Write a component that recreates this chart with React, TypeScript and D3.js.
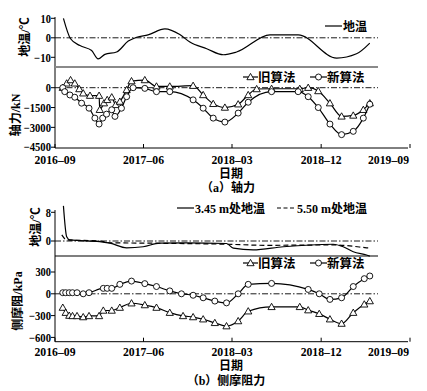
import React from "react";
import * as d3 from "d3";

// ---------- DATA ----------
const xTickLabels = ["2016-09", "2017-06", "2018-03", "2018-12", "2019-09"];

// (a) ground temperature
const tempADates = ["2016-09-27","2016-10-19","2016-11-17","2016-12-23","2017-01-12","2017-02-02","2017-03-10","2017-04-15","2017-05-11","2017-06-15","2017-08-06","2017-09-21","2017-10-22","2017-12-13","2018-02-02","2018-03-15","2018-06-26","2018-09-21","2019-01-18","2019-03-20","2019-04-30"];
const tempAValues = [10, -0.5, -4, -6.5, -10.8, -8.5, -7.3, -1.7, 0.3, 1.5, 4.6, 1.7, -2.2, -5.6, -8.7, -7.3, 1.5, 1.5, -10.4, -8.2, -2.7];
const tempATicks = [10, 0, -10];

// (a) axial force, old method
const axialOldDates = ["2016-09-25","2016-10-07","2016-10-19","2016-11-01","2016-11-15","2016-11-27","2016-12-18","2017-01-15","2017-01-17","2017-01-30","2017-02-09","2017-02-23","2017-03-07","2017-03-20","2017-04-10","2017-04-25","2017-06-05","2017-07-11","2017-08-21","2017-11-01","2017-12-02","2018-01-02","2018-02-07","2018-03-20","2018-04-20","2018-05-16","2018-07-01","2018-09-26","2018-10-22","2018-11-22","2018-12-28","2019-02-02","2019-03-10","2019-04-10","2019-04-30"];
const axialOldValues = [0, 330, 580, 330, -100, -420, -600, -600, -1670, -1170, -920, -720, -1300, -1050, -170, 500, 580, 100, 100, 150, -550, -1220, -1500, -1250, -550, -100, -80, -80, 0, -250, -1170, -2170, -2100, -1670, -1170];
// (a) axial force, new method
const axialNewDates = ["2016-09-25","2016-10-01","2016-10-17","2016-11-01","2016-11-22","2016-12-15","2017-01-02","2017-01-15","2017-01-26","2017-02-07","2017-02-23","2017-03-05","2017-03-25","2017-04-10","2017-04-30","2017-06-05","2017-07-11","2017-08-21","2017-11-01","2017-12-02","2018-01-02","2018-02-07","2018-03-20","2018-04-20","2018-07-01","2018-09-21","2018-10-22","2018-11-22","2018-12-28","2019-02-02","2019-03-10","2019-04-10","2019-04-30"];
const axialNewValues = [0, -300, -550, -720, -1170, -1550, -2300, -2750, -2300, -2000, -1670, -2170, -1550, -680, 0, -50, -300, -300, -920, -1550, -2300, -2600, -1920, -1100, -300, -300, -680, -1500, -2750, -3550, -3300, -2300, -1250];
const axialTicks = [0, -1500, -3000, -4500];

// (b) ground temperatures
const temp345Dates = ["2016-09-27","2016-10-07","2016-10-17","2017-01-17","2017-02-18","2017-04-10","2017-05-31","2017-07-21","2017-10-11","2018-02-12","2018-03-05","2018-05-05","2018-08-06","2019-01-07","2019-02-07","2019-03-10","2019-04-20","2019-04-30"];
const temp345Values = [9.8, 1.2, 0.3, -0.2, -0.6, -1.9, -1.6, -0.6, -0.5, -0.7, -2, -2.5, -1.6, -0.9, -1.6, -3, -3.9, -4.2];
const temp550Dates = ["2016-09-22","2016-10-07","2017-01-17","2017-02-18","2017-06-21","2018-02-12","2018-06-15","2019-01-07","2019-04-20","2019-04-30"];
const temp550Values = [1.7, 0.3, 0, -0.5, -0.6, -0.9, -1.2, -1.1, -1.9, -2.0];
const tempBTicks = [8, 0];

// (b) side friction
const fricNewDates = ["2016-09-25","2016-10-04","2016-10-15","2016-10-25","2016-11-08","2016-11-27","2016-12-15","2017-01-28","2017-02-09","2017-02-23","2017-03-20","2017-04-25","2017-06-05","2017-07-11","2017-08-21","2017-09-26","2017-11-01","2017-12-02","2018-01-07","2018-02-12","2018-03-20","2018-04-20","2018-07-01","2018-10-22","2018-11-25","2018-12-28","2019-02-02","2019-03-10","2019-04-13","2019-04-30"];
const fricNewValues = [15, 15, 15, 15, 15, 0, 15, 75, 75, 75, 130, 175, 140, 100, 40, 0, -20, -55, -100, -125, 0, 130, 143, 60, 0, -77, -55, 100, 208, 245];
const fricOldDates = ["2016-09-25","2016-10-04","2016-10-15","2016-10-25","2016-11-08","2016-11-27","2016-12-15","2017-01-15","2017-01-28","2017-02-23","2017-03-20","2017-04-25","2017-06-05","2017-07-11","2017-08-21","2017-10-01","2017-11-01","2017-12-02","2018-01-07","2018-02-12","2018-03-20","2018-04-20","2018-07-01","2018-09-26","2018-10-22","2018-11-25","2018-12-28","2019-02-02","2019-03-10","2019-04-13","2019-04-30"];
const fricOldValues = [-190, -260, -300, -305, -305, -320, -305, -305, -230, -230, -190, -130, -155, -190, -260, -305, -320, -350, -400, -445, -375, -240, -180, -180, -225, -275, -350, -410, -260, -145, -100];
const fricTicks = [300, 0, -300, -600];

// ---------- HELPERS ----------
const parse = d3.timeParse("%Y-%m-%d");
const zip = (ds: string[], vs: number[]) => ds.map((d, i) => ({ t: parse(d) as Date, v: vs[i] }));

const NUM_FONT = "'Liberation Serif', 'Times New Roman', serif";
const CJK_FONT = "'Liberation Serif', 'Noto Sans CJK SC', serif";

const x = d3.scaleTime()
  .domain([parse("2016-09-01") as Date, parse("2019-09-01") as Date])
  .range([55, 410]);
const xTickDates = xTickLabels.map(s => parse(s + "-01") as Date);
const X0 = 55, XEND = 378, XAXEND = 408;

function Tri({ cx, cy }: { cx: number; cy: number }) {
  const s = 3.6;
  return <path d={`M${cx},${cy - s}L${cx + s},${cy + s * 0.75}L${cx - s},${cy + s * 0.75}Z`} fill="#fff" stroke="#000" strokeWidth={0.9} />;
}
function Circ({ cx, cy }: { cx: number; cy: number }) {
  return <circle cx={cx} cy={cy} r={3} fill="#fff" stroke="#000" strokeWidth={0.9} />;
}

function Series({ data, y, marker, dash }: { data: { t: Date; v: number }[]; y: d3.ScaleLinear<number, number>; marker?: "tri" | "circ"; dash?: string }) {
  const line = d3.line<{ t: Date; v: number }>().x(d => x(d.t)).y(d => y(d.v)).curve(d3.curveMonotoneX);
  return (
    <g>
      <path d={line(data) || ""} fill="none" stroke="#000" strokeWidth={1.2} strokeDasharray={dash} />
      {marker && data.map((d, i) =>
        marker === "tri" ? <Tri key={i} cx={x(d.t)} cy={y(d.v)} /> : <Circ key={i} cx={x(d.t)} cy={y(d.v)} />
      )}
    </g>
  );
}

function YTicks({ y, ticks }: { y: d3.ScaleLinear<number, number> ; ticks: number[] }) {
  return (
    <g>
      {ticks.map(t => {
        const s = t < 0 ? "\u2212" + Math.abs(t) : String(t);
        const w = String(Math.abs(t)).length * 5.2 + (t < 0 ? 6.5 : 0);
        return (
          <g key={t}>
            <line x1={X0 - 4} x2={X0} y1={y(t)} y2={y(t)} stroke="#000" strokeWidth={1} />
            <text x={X0 - 4} y={y(t)} dy="0.35em" textAnchor="end" fontFamily={NUM_FONT} fontWeight="bold" fontSize={12}
              textLength={w} lengthAdjust="spacingAndGlyphs">
              {s}
            </text>
          </g>
        );
      })}
    </g>
  );
}

function XAxis({ yPos, off }: { yPos: number; off: number }) {
  return (
    <g>
      <line x1={X0} x2={XAXEND} y1={yPos} y2={yPos} stroke="#000" strokeWidth={1} />
      {xTickDates.map((d, i) => {
        const last = i === xTickDates.length - 1;
        return (
          <g key={i}>
            <line x1={x(d)} x2={x(d)} y1={yPos} y2={yPos - 4} stroke="#000" strokeWidth={1} />
            <text x={last ? 409 : x(d)} y={yPos + off} textAnchor={last ? "end" : "middle"} fontFamily={NUM_FONT} fontWeight="bold" fontSize={12.5}
              textLength={41} lengthAdjust="spacingAndGlyphs">
              {xTickLabels[i].replace("-", "\u2013")}
            </text>
          </g>
        );
      })}
    </g>
  );
}

function ZeroLine({ yPos }: { yPos: number }) {
  return <line x1={X0} x2={XEND} y1={yPos} y2={yPos} stroke="#000" strokeWidth={0.9} strokeDasharray="6,2,1.5,2" />;
}

function YLabel({ cx, cy, text }: { cx: number; cy: number; text: string }) {
  return (
    <text transform={`translate(${cx},${cy}) rotate(-90)`} textAnchor="middle" dy="0.35em" fontFamily={CJK_FONT} fontWeight="bold" fontSize={12}>
      {text}
    </text>
  );
}

export default function App() {
  const yTA = d3.scaleLinear().domain([-10, 10]).range([57.3, 18.3]);
  const yAx = d3.scaleLinear().domain([-4500, 0]).range([147.2, 87.7]);
  const yTB = d3.scaleLinear().domain([0, 8]).range([241, 212.3]);
  const yFr = d3.scaleLinear().domain([-600, 300]).range([337.4, 272]);

  return (
    <svg width={427} height={391} style={{ position: "absolute", left: 0, top: 0, background: "#fff" }}>
      <rect width={427} height={391} fill="#fff" />
      {/* ===== Panel (a) ===== */}
      <line x1={X0} x2={X0} y1={17} y2={148} stroke="#000" strokeWidth={1} />
      <line x1={X0} x2={XEND} y1={67} y2={67} stroke="#8a8a8a" strokeWidth={2} />
      <YTicks y={yTA} ticks={tempATicks} />
      <YTicks y={yAx} ticks={axialTicks} />
      <ZeroLine yPos={yTA(0)} />
      <ZeroLine yPos={yAx(0)} />
      <Series data={zip(tempADates, tempAValues)} y={yTA} />
      <Series data={zip(axialOldDates, axialOldValues)} y={yAx} marker="tri" />
      <Series data={zip(axialNewDates, axialNewValues)} y={yAx} marker="circ" />
      <XAxis yPos={148} off={15.5} />
      <YLabel cx={25} cy={37} text="地温/℃" />
      <YLabel cx={16} cy={115} text="轴力/kN" />
      {/* legends (a) */}
      <line x1={325} x2={342} y1={26} y2={26} stroke="#000" strokeWidth={1.2} />
      <text x={343} y={30.5} fontFamily={CJK_FONT} fontWeight="bold" fontSize={12}>地温</text>
      <line x1={243} x2={258} y1={77} y2={77} stroke="#000" strokeWidth={1.2} />
      <Tri cx={250.5} cy={77} />
      <text x={258} y={81.5} fontFamily={CJK_FONT} fontWeight="bold" fontSize={12.5}>旧算法</text>
      <line x1={310} x2={327} y1={77} y2={77} stroke="#000" strokeWidth={1.2} />
      <Circ cx={318.5} cy={77} />
      <text x={327} y={81.5} fontFamily={CJK_FONT} fontWeight="bold" fontSize={12.5}>新算法</text>
      <text x={231} y={178} textAnchor="middle" fontFamily={CJK_FONT} fontWeight="bold" fontSize={12}>日期</text>
      <text x={228} y={191.5} textAnchor="middle" fontFamily={CJK_FONT} fontWeight="bold" fontSize={12}>（a）轴力</text>

      {/* ===== Panel (b) ===== */}
      <line x1={X0} x2={X0} y1={210} y2={341.7} stroke="#000" strokeWidth={1} />
      <line x1={X0} x2={XEND} y1={256} y2={256} stroke="#000" strokeWidth={1.2} />
      <YTicks y={yTB} ticks={tempBTicks} />
      <YTicks y={yFr} ticks={fricTicks} />
      <ZeroLine yPos={yTB(0)} />
      <ZeroLine yPos={yFr(0)} />
      <Series data={zip(temp345Dates, temp345Values)} y={yTB} />
      <Series data={zip(temp550Dates, temp550Values)} y={yTB} dash="5,3" />
      <Series data={zip(fricNewDates, fricNewValues)} y={yFr} marker="circ" />
      <Series data={zip(fricOldDates, fricOldValues)} y={yFr} marker="tri" />
      <XAxis yPos={341.7} off={14.5} />
      <YLabel cx={36} cy={227} text="地温/℃" />
      <YLabel cx={18} cy={301} text="侧摩阻/kPa" />
      {/* legends (b) */}
      <line x1={177} x2={194} y1={208} y2={208} stroke="#000" strokeWidth={1.2} />
      <text x={195} y={212.5} fontFamily={CJK_FONT} fontWeight="bold" fontSize={12}>3.45 m处地温</text>
      <line x1={277} x2={296} y1={208} y2={208} stroke="#000" strokeWidth={1.2} strokeDasharray="4,2.5" />
      <text x={297} y={212.5} fontFamily={CJK_FONT} fontWeight="bold" fontSize={12}>5.50 m处地温</text>
      <line x1={243} x2={258} y1={263} y2={263} stroke="#000" strokeWidth={1.2} />
      <Tri cx={250.5} cy={263} />
      <text x={258} y={267.5} fontFamily={CJK_FONT} fontWeight="bold" fontSize={12.5}>旧算法</text>
      <line x1={310} x2={327} y1={263} y2={263} stroke="#000" strokeWidth={1.2} />
      <Circ cx={318.5} cy={263} />
      <text x={327} y={267.5} fontFamily={CJK_FONT} fontWeight="bold" fontSize={12.5}>新算法</text>
      <text x={231} y={369.5} textAnchor="middle" fontFamily={CJK_FONT} fontWeight="bold" fontSize={12}>日期</text>
      <text x={226} y={384.5} textAnchor="middle" fontFamily={CJK_FONT} fontWeight="bold" fontSize={12}>（b）侧摩阻力</text>
    </svg>
  );
}
